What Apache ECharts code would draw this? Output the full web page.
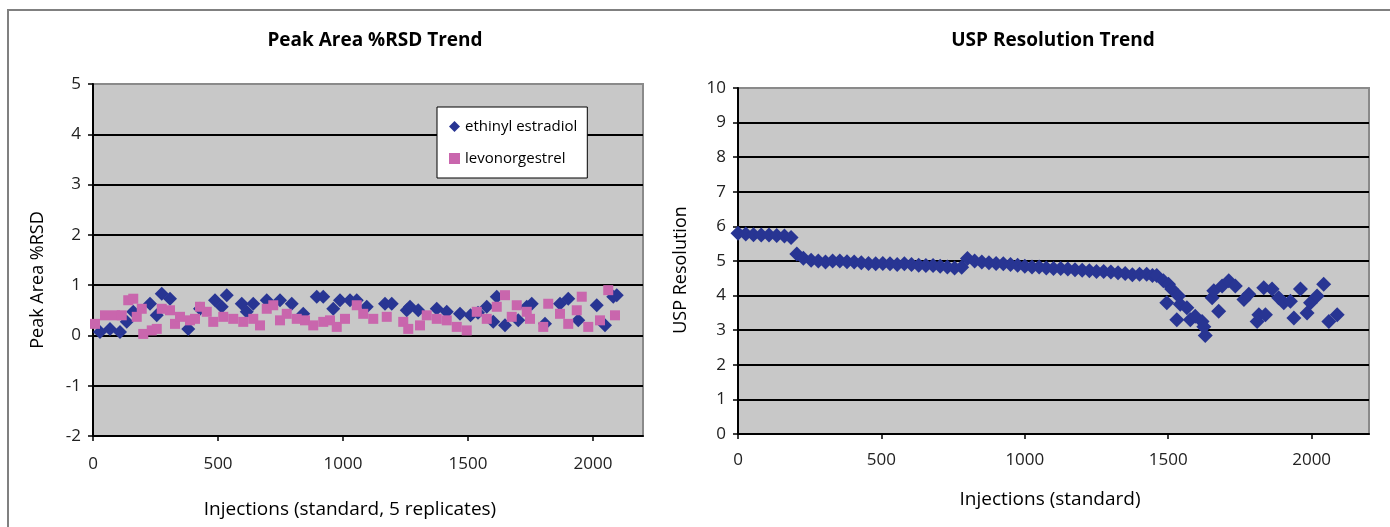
<!DOCTYPE html>
<html>
<head>
<meta charset="utf-8">
<script src="https://cdn.jsdelivr.net/npm/echarts@6/dist/echarts.min.js"></script>
<style>
  html, body { margin: 0; background: #fff; }
  #chart { width: 1390px; height: 527px; }
</style>
</head>
<body>
<div id="chart"></div>
<script>
// Peak Area %RSD — injection number / value
const eeInj = [28, 68, 108, 135, 161, 228, 255, 275, 308, 381, 428, 488, 515, 535, 595, 615, 641, 695, 748, 795,
  841, 895, 921, 961, 988, 1028, 1055, 1095, 1168, 1195, 1255, 1268, 1301, 1375, 1415, 1468, 1510, 1540, 1575, 1601,
  1615, 1648, 1701, 1735, 1755, 1808, 1868, 1901, 1941, 2015, 2048, 2081, 2095];
const eeVal = [0.07, 0.13, 0.07, 0.27, 0.47, 0.63, 0.40, 0.83, 0.73, 0.13, 0.53, 0.70, 0.57, 0.80, 0.63, 0.47, 0.63, 0.70, 0.70, 0.63,
  0.43, 0.77, 0.77, 0.53, 0.70, 0.70, 0.70, 0.57, 0.63, 0.63, 0.50, 0.57, 0.50, 0.53, 0.47, 0.43, 0.40, 0.45, 0.57, 0.27,
  0.77, 0.20, 0.30, 0.57, 0.63, 0.23, 0.63, 0.73, 0.30, 0.60, 0.20, 0.77, 0.80];

const lnInj = [8, 48, 88, 115, 141, 161, 175, 195, 201, 235, 255, 275, 308, 328, 348, 388, 408, 428, 455, 481,
  521, 561, 601, 641, 668, 695, 721, 748, 775, 815, 848, 881, 921, 948, 975, 1008, 1055, 1081, 1121, 1175,
  1241, 1261, 1308, 1335, 1375, 1415, 1455, 1495, 1535, 1575, 1615, 1648, 1675, 1695, 1735, 1748, 1801, 1821, 1868, 1901,
  1935, 1955, 1981, 2028, 2061, 2088];
const lnVal = [0.23, 0.40, 0.40, 0.40, 0.70, 0.73, 0.37, 0.53, 0.03, 0.10, 0.13, 0.53, 0.50, 0.23, 0.37, 0.30, 0.33, 0.57, 0.47, 0.27,
  0.37, 0.33, 0.27, 0.33, 0.20, 0.53, 0.60, 0.30, 0.43, 0.33, 0.30, 0.20, 0.27, 0.30, 0.17, 0.33, 0.60, 0.43, 0.33, 0.37,
  0.27, 0.13, 0.20, 0.40, 0.33, 0.30, 0.17, 0.10, 0.47, 0.33, 0.57, 0.80, 0.37, 0.60, 0.47, 0.33, 0.17, 0.63, 0.43, 0.23,
  0.50, 0.77, 0.17, 0.30, 0.90, 0.40];

// USP Resolution
const uspInj = [0, 27, 54, 81, 108, 135, 162, 185, 205, 228, 255, 280, 305, 330, 355, 380, 405, 430, 455, 480,
  505, 530, 555, 580, 605, 630, 655, 680, 705, 730, 755, 780, 800, 825, 850, 875, 900, 925, 950, 975,
  1000, 1025, 1050, 1075, 1100, 1125, 1150, 1175, 1200, 1225, 1250, 1275, 1300, 1325, 1350, 1375, 1400, 1425, 1445, 1460,
  1483, 1495, 1501, 1512, 1530, 1536, 1542, 1565, 1577, 1594, 1618, 1624, 1629, 1653, 1659, 1676, 1688, 1711, 1734, 1764,
  1781, 1810, 1816, 1833, 1839, 1862, 1885, 1903, 1926, 1938, 1961, 1984, 1996, 2019, 2042, 2060, 2089];
const uspVal = [5.80, 5.78, 5.76, 5.75, 5.75, 5.74, 5.72, 5.68, 5.20, 5.08, 5.02, 5.00, 4.97, 5.00, 5.00, 4.98, 4.97, 4.95, 4.93, 4.92,
  4.93, 4.92, 4.90, 4.92, 4.90, 4.88, 4.87, 4.87, 4.85, 4.83, 4.80, 4.82, 5.07, 5.00, 4.97, 4.95, 4.93, 4.92, 4.90, 4.88,
  4.85, 4.83, 4.83, 4.80, 4.78, 4.78, 4.77, 4.75, 4.73, 4.72, 4.70, 4.70, 4.68, 4.66, 4.64, 4.60, 4.62, 4.62, 4.58, 4.58,
  4.43, 3.79, 4.33, 4.19, 3.30, 3.99, 3.75, 3.65, 3.30, 3.40, 3.25, 3.10, 2.85, 3.94, 4.14, 3.55, 4.28, 4.43, 4.28, 3.89,
  4.04, 3.25, 3.45, 4.23, 3.45, 4.19, 3.94, 3.79, 3.84, 3.35, 4.19, 3.50, 3.79, 3.99, 4.33, 3.25, 3.45];

const xTicksMax = 2200;
const FONT = 'Open Sans';
const BLUE = '#283593';
const PINK = '#c966ad';

const pairs = (xs, ys) => xs.map((x, i) => [x, ys[i]]);

const chart = echarts.init(document.getElementById('chart'), null, { renderer: 'canvas' });

function xAxisCfg(gridIndex, margin) {
  return {
    type: 'value', gridIndex, min: 0, max: xTicksMax, interval: 500,
    axisLine: { show: true, onZero: false, lineStyle: { color: '#000', width: 2 } },
    axisTick: { show: true, length: 5, lineStyle: { color: '#000', width: 1.5 } },
    axisLabel: { color: '#222', fontSize: 17, fontFamily: FONT, margin, showMaxLabel: false,
      formatter: v => String(v) },
    splitLine: { show: false },
  };
}
function yAxisCfg(gridIndex, min, max) {
  return {
    type: 'value', gridIndex, min, max, interval: 1,
    axisLine: { show: true, onZero: false, lineStyle: { color: '#000', width: 2 } },
    axisTick: { show: true, length: 5, lineStyle: { color: '#000', width: 1.5 } },
    axisLabel: { color: '#222', fontSize: 17, fontFamily: FONT, margin: 12 },
    splitLine: { show: true, showMaxLine: false, showMinLine: false, lineStyle: { color: '#000', width: 2 } },
  };
}

chart.setOption({
  animation: false,
  backgroundColor: '#fff',
  textStyle: { fontFamily: FONT },
  title: [
    { text: 'Peak Area %RSD Trend', left: 370, top: 26, textAlign: 'center',
      textStyle: { fontSize: 19, fontWeight: 'bold', color: '#000', fontFamily: FONT } },
    { text: 'USP Resolution Trend', left: 1048, top: 26, textAlign: 'center',
      textStyle: { fontSize: 19, fontWeight: 'bold', color: '#000', fontFamily: FONT } },
  ],
  legend: {
    orient: 'vertical', left: 437, top: 107,
    padding: [12, 10, 12, 12], itemGap: 17,
    itemWidth: 11, itemHeight: 11,
    backgroundColor: '#fff', borderColor: '#000', borderWidth: 1, borderRadius: 0,
    textStyle: { fontSize: 15, color: '#000', fontFamily: FONT },
    data: [
      { name: 'ethinyl estradiol', icon: 'diamond' },
      { name: 'levonorgestrel', icon: 'rect' },
    ],
  },
  grid: [
    { left: 93, top: 84, width: 550, height: 352, show: true, backgroundColor: '#c8c8c8', borderColor: '#8a8a8a', borderWidth: 2 },
    { left: 738, top: 88, width: 631, height: 346, show: true, backgroundColor: '#c8c8c8', borderColor: '#8a8a8a', borderWidth: 2 },
  ],
  xAxis: [xAxisCfg(0, 20), xAxisCfg(1, 18)],
  yAxis: [yAxisCfg(0, -2, 5), yAxisCfg(1, 0, 10)],
  series: [
    { name: 'ethinyl estradiol', type: 'scatter', xAxisIndex: 0, yAxisIndex: 0,
      symbol: 'diamond', symbolSize: 14, itemStyle: { color: BLUE, opacity: 1 },
      data: pairs(eeInj, eeVal) },
    { name: 'levonorgestrel', type: 'scatter', xAxisIndex: 0, yAxisIndex: 0,
      symbol: 'rect', symbolSize: 10, itemStyle: { color: PINK, opacity: 1 },
      data: pairs(lnInj, lnVal) },
    { name: 'USP Resolution', type: 'scatter', xAxisIndex: 1, yAxisIndex: 1,
      symbol: 'diamond', symbolSize: 15, itemStyle: { color: BLUE, opacity: 1 },
      data: pairs(uspInj, uspVal) },
  ],
  graphic: [
    { type: 'rect', silent: true, z: -1,
      shape: { x: 8, y: 10, width: 1400, height: 540 },
      style: { fill: 'none', stroke: '#808080', lineWidth: 2 } },
    { type: 'text', x: 38, y: 280, rotation: Math.PI / 2,
      style: { text: 'Peak Area %RSD', fill: '#000', font: '18px "Open Sans"', textAlign: 'center', textVerticalAlign: 'middle' } },
    { type: 'text', x: 681, y: 270, rotation: Math.PI / 2,
      style: { text: 'USP Resolution', fill: '#000', font: '18px "Open Sans"', textAlign: 'center', textVerticalAlign: 'middle' } },
    { type: 'text', x: 350, y: 510,
      style: { text: 'Injections (standard, 5 replicates)', fill: '#000', font: '19px "Open Sans"', textAlign: 'center', textVerticalAlign: 'middle' } },
    { type: 'text', x: 1050, y: 500,
      style: { text: 'Injections (standard)', fill: '#000', font: '19px "Open Sans"', textAlign: 'center', textVerticalAlign: 'middle' } },
  ],
});
</script>
</body>
</html>
